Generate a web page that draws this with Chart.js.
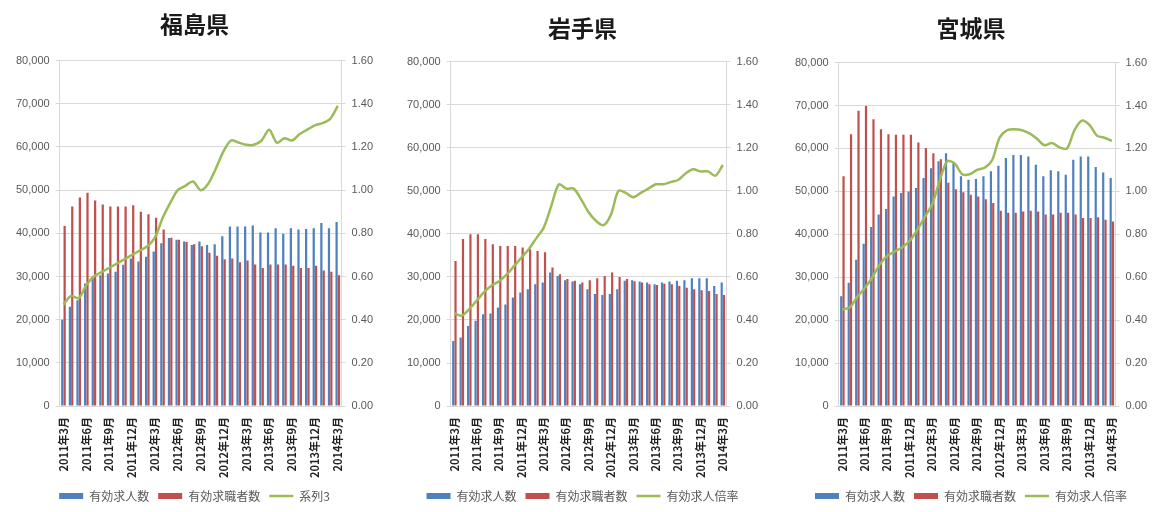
<!DOCTYPE html>
<html lang="ja">
<head>
<meta charset="utf-8">
<title>有効求人数・有効求職者数・有効求人倍率</title>
<script src="https://cdn.jsdelivr.net/npm/chart.js@4.4.0/dist/chart.umd.min.js"></script>
<style>
  body { margin: 0; background: #fff; width: 1156px; height: 512px; overflow: hidden; position: relative; }
  .panel { position: absolute; top: 0; height: 512px; }
</style>
</head>
<body>
<div class="panel" style="left:0;width:385px"><canvas id="fukushimaChart" width="385" height="512"></canvas></div>
<div class="panel" style="left:385px;width:385px"><canvas id="iwateChart" width="385" height="512"></canvas></div>
<div class="panel" style="left:770px;width:386px"><canvas id="miyagiChart" width="386" height="512"></canvas></div>
<script>
'use strict';

/* --- Data: 2011年3月 - 2014年3月 --- */
const months = [
  '2011年3月', '2011年4月', '2011年5月', '2011年6月', '2011年7月', '2011年8月', '2011年9月',
  '2011年10月', '2011年11月', '2011年12月', '2012年1月', '2012年2月', '2012年3月',
  '2012年4月', '2012年5月', '2012年6月', '2012年7月', '2012年8月', '2012年9月',
  '2012年10月', '2012年11月', '2012年12月', '2013年1月', '2013年2月', '2013年3月',
  '2013年4月', '2013年5月', '2013年6月', '2013年7月', '2013年8月', '2013年9月',
  '2013年10月', '2013年11月', '2013年12月', '2014年1月', '2014年2月', '2014年3月'
];

const seriesNames = ['有効求人数', '有効求職者数', '有効求人倍率'];

// 福島県
const fukushimaOffers = [
  20000, 23000, 24500, 28400, 30000, 30300, 30700, 31100, 32700, 34200, 33500, 34600, 35800,
  37700, 38900, 38500, 38100, 37300, 38100, 37300, 37500, 39300, 41600, 41600, 41600,
  41800, 40200, 40200, 41200, 39900, 41200, 40900, 41000, 41200, 42400, 41200, 42600
];
const fukushimaSeekers = [
  41700, 46200, 48300, 49400, 47600, 46700, 46200, 46200, 46200, 46500, 45000, 44400, 43600,
  40900, 39000, 38500, 38000, 37500, 37000, 35500, 34800, 34000, 34200, 33300, 33700,
  32800, 32000, 32800, 32800, 32800, 32500, 32000, 32000, 32500, 31400, 31100, 30300
];
const fukushimaRatio = [
  0.47, 0.51, 0.50, 0.56, 0.60, 0.62, 0.64, 0.66, 0.68, 0.70, 0.72, 0.74, 0.78,
  0.87, 0.94, 1.00, 1.02, 1.04, 1.00, 1.03, 1.10, 1.18, 1.23, 1.22, 1.21,
  1.21, 1.23, 1.28, 1.22, 1.24, 1.23, 1.26, 1.28, 1.30, 1.31, 1.33, 1.39
];

// 岩手県
const iwateOffers = [
  15100, 15900, 18600, 19800, 21300, 21500, 22900, 23600, 25200, 26400, 27100, 28300, 28700,
  31000, 30200, 29200, 28900, 28300, 27100, 26000, 25800, 26000, 27100, 29100, 29200,
  28900, 28700, 28300, 28700, 28900, 29100, 29200, 29700, 29700, 29700, 27900, 28700
];
const iwateSeekers = [
  33700, 38800, 39900, 39900, 38800, 37600, 37200, 37200, 37200, 36800, 36400, 36000, 35700,
  32200, 30600, 29500, 29100, 28700, 29200, 29700, 30200, 31000, 30000, 29500, 29000,
  28700, 28300, 28100, 28400, 28300, 27900, 27500, 27100, 26900, 26700, 26000, 25800
];
const iwateRatio = [
  0.43, 0.42, 0.45, 0.49, 0.53, 0.56, 0.58, 0.61, 0.65, 0.69, 0.73, 0.78, 0.83,
  0.93, 1.03, 1.01, 1.01, 0.96, 0.90, 0.86, 0.84, 0.89, 1.00, 0.99, 0.97,
  0.99, 1.01, 1.03, 1.03, 1.04, 1.05, 1.08, 1.10, 1.09, 1.09, 1.07, 1.12
];

// 宮城県
const miyagiOffers = [
  25600, 28700, 34100, 37800, 41700, 44600, 45900, 48800, 49600, 50000, 50800, 53100, 55400,
  57000, 58900, 56600, 53500, 52700, 52900, 53500, 54700, 56000, 57800, 58500, 58500,
  58100, 56200, 53500, 54900, 54700, 53900, 57400, 58100, 58100, 55700, 54400, 53100
];
const miyagiSeekers = [
  53500, 63300, 68800, 69900, 66800, 64500, 63300, 63200, 63200, 63200, 61400, 60100, 58900,
  57500, 52000, 50500, 49800, 49200, 48800, 48200, 47300, 45500, 45000, 45000, 45300,
  45500, 45300, 44600, 44600, 45000, 45000, 44600, 43800, 43800, 44000, 43400, 43000
];
const miyagiRatio = [
  0.45, 0.46, 0.51, 0.55, 0.60, 0.66, 0.70, 0.72, 0.74, 0.77, 0.82, 0.88, 0.94,
  1.05, 1.14, 1.13, 1.08, 1.08, 1.10, 1.11, 1.145, 1.25, 1.285, 1.29, 1.285,
  1.27, 1.245, 1.215, 1.225, 1.205, 1.20, 1.285, 1.33, 1.31, 1.26, 1.25, 1.235
];

// axis ranges
const countMax = 80000;
const countStep = 10000;
const ratioMax = 1.6;
const ratioStep = 0.2;

/* --- Styles --- */
const COLORS = { offers: '#4F81BD', seekers: '#C0504D', ratio: '#9BBB59' };
const GRID = '#d9d9d9';
const TICK_FONT = { family: "'Liberation Sans', sans-serif", size: 11 };
const JP_FONT = "'Noto Sans CJK JP', sans-serif";

function buildChart(canvasId, title, offers, seekers, ratio, ratioLabel, pad, titlePad) {
  const ctx = document.getElementById(canvasId);
  return new Chart(ctx, {
    type: 'bar',
    data: {
      labels: months,
      datasets: [{
        type: 'bar',
        label: seriesNames[0],
        data: offers,
        backgroundColor: COLORS.offers,
        yAxisID: 'y',
        order: 1,
        pointStyle: 'rect',
        categoryPercentage: 0.62,
        barPercentage: 0.95
      }, {
        type: 'bar',
        label: seriesNames[1],
        data: seekers,
        backgroundColor: COLORS.seekers,
        yAxisID: 'y',
        order: 2,
        pointStyle: 'rect',
        categoryPercentage: 0.62,
        barPercentage: 0.95
      }, {
        type: 'line',
        label: ratioLabel,
        data: ratio,
        borderColor: COLORS.ratio,
        backgroundColor: COLORS.ratio,
        borderWidth: 2.5,
        pointRadius: 0,
        tension: 0.3,
        yAxisID: 'y1',
        order: 0,
        pointStyle: 'line'
      }]
    },
    options: {
      responsive: false,
      animation: false,
      layout: { padding: pad },
      plugins: {
        title: {
          display: true,
          text: title,
          color: '#1a1a1a',
          font: { family: JP_FONT, size: 23, weight: 'bold' },
          padding: titlePad
        },
        legend: {
          position: 'bottom',
          labels: {
            usePointStyle: true,
            pointStyleWidth: 24,
            boxHeight: 6,
            padding: 9,
            color: '#595959',
            font: { family: JP_FONT, size: 12 },
            // keep the dataset order (bars first, ratio line last)
            sort: (a, b) => a.datasetIndex - b.datasetIndex
          }
        },
        tooltip: { enabled: false }
      },
      scales: {
        x: {
          grid: { display: false },
          border: { display: true, color: GRID },
          ticks: {
            autoSkip: false,
            maxRotation: 90,
            minRotation: 90,
            padding: 3,
            color: '#222',
            font: { family: JP_FONT, size: 11, weight: 'bold' },
            callback: function (value, index) {
              return index % 3 === 0 ? this.getLabelForValue(value) : '';
            }
          }
        },
        y: {
          position: 'left',
          min: 0,
          max: countMax,
          ticks: {
            stepSize: countStep,
            padding: 6,
            color: '#595959',
            font: TICK_FONT,
            callback: v => v.toLocaleString('en-US')
          },
          grid: { color: GRID, tickLength: 4 },
          border: { display: true, color: GRID }
        },
        y1: {
          position: 'right',
          min: 0,
          max: ratioMax,
          ticks: {
            stepSize: ratioStep,
            padding: 6,
            color: '#595959',
            font: TICK_FONT,
            callback: v => v.toFixed(2)
          },
          grid: { drawOnChartArea: false, color: GRID, tickLength: 4 },
          border: { display: true, color: GRID }
        }
      }
    }
  });
}

/* --- Render the three prefectures --- */
buildChart('fukushimaChart', '福島県', fukushimaOffers, fukushimaSeekers, fukushimaRatio, '系列3',
  { left: 10, right: 6, top: 0, bottom: 0 }, { top: 10, bottom: 23 });
buildChart('iwateChart', '岩手県', iwateOffers, iwateSeekers, iwateRatio, seriesNames[2],
  { left: 16, right: 6, top: 4, bottom: 0 }, { top: 10, bottom: 20 });
buildChart('miyagiChart', '宮城県', miyagiOffers, miyagiSeekers, miyagiRatio, seriesNames[2],
  { left: 19, right: 3, top: 4, bottom: 0 }, { top: 10, bottom: 21 });
</script>
</body>
</html>
